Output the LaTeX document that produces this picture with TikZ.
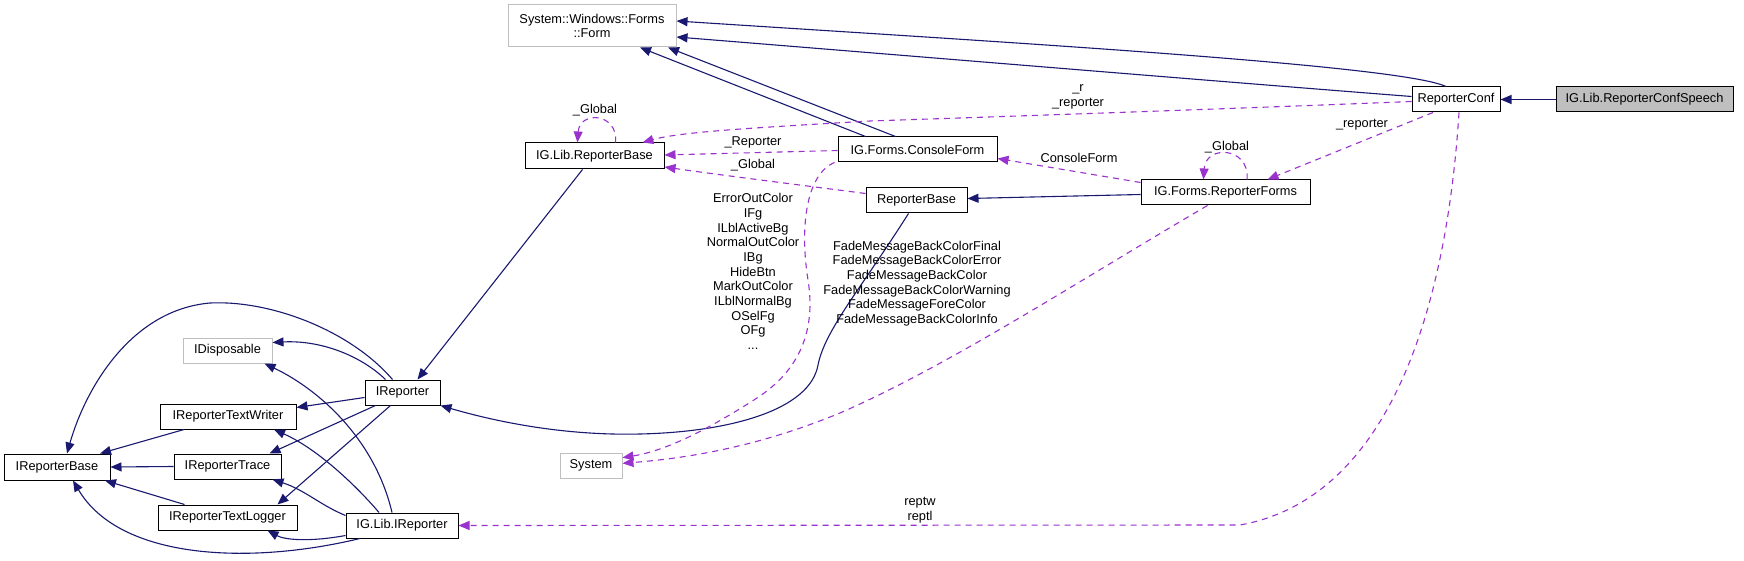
\documentclass[tikz,border=0pt]{standalone}
\usepackage{fontspec}
\setmainfont{Liberation Sans}
\usetikzlibrary{arrows.meta,calc}
\definecolor{navyedge}{HTML}{191970}
\definecolor{purpedge}{HTML}{9A32CD}
\definecolor{extgray}{HTML}{BFBFBF}
\newcommand\dgfont{\fontsize{12.8pt}{14.7pt}\selectfont}
\begin{document}
\begin{tikzpicture}[x=1pt,y=-1pt,
  cls/.style={draw=black, line width=1pt, fill=white, rectangle, inner sep=0pt, font=\dgfont, align=center},
  ext/.style={cls, draw=extgray},
  focal/.style={cls, fill=extgray},
  inh/.style={draw=navyedge, line width=1.1pt, -{Triangle[length=11pt,width=9pt]}},
  use/.style={draw=purpedge, line width=1.1pt, dash pattern=on 6pt off 5pt, -{Triangle[length=11pt,width=9pt]}},
  lab/.style={font=\dgfont, align=center, inner sep=0pt}]
\useasboundingbox[fill=white] (0,0) rectangle (1744,561);

% nodes
\node[ext, minimum width=168pt, minimum height=42pt] (Form) at (592,26) {System::Windows::Forms\\::Form};
\node[cls, minimum width=88pt, minimum height=25pt] (RC) at (1456,99.5) {ReporterConf};
\node[focal, minimum width=177pt, minimum height=25pt] (RCS) at (1644.5,99.5) {IG.Lib.ReporterConfSpeech};
\node[cls, minimum width=139pt, minimum height=26pt] (RB) at (594.5,156) {IG.Lib.ReporterBase};
\node[cls, minimum width=159pt, minimum height=25pt] (CF) at (917.5,149.5) {IG.Forms.ConsoleForm};
\node[cls, minimum width=101pt, minimum height=25pt] (RBase) at (916.5,200.5) {ReporterBase};
\node[cls, minimum width=169pt, minimum height=25pt] (RF) at (1225.5,192.5) {IG.Forms.ReporterForms};
\node[ext, minimum width=89pt, minimum height=25pt] (IDisp) at (227.5,350.5) {IDisposable};
\node[cls, minimum width=75pt, minimum height=25pt] (IRep) at (402.5,392.5) {IReporter};
\node[cls, minimum width=136pt, minimum height=25pt] (ITW) at (228,416.5) {IReporterTextWriter};
\node[cls, minimum width=106pt, minimum height=26pt] (IRB) at (57,467) {IReporterBase};
\node[cls, minimum width=107pt, minimum height=25pt] (ITrace) at (227.5,466.5) {IReporterTrace};
\node[cls, minimum width=139pt, minimum height=25pt] (ITL) at (227.5,517.5) {IReporterTextLogger};
\node[cls, minimum width=112pt, minimum height=25pt] (IGIR) at (402,525.5) {IG.Lib.IReporter};
\node[ext, minimum width=62pt, minimum height=25pt] (Sys) at (591,465.5) {System};

% inheritance edges
\draw[inh] (RCS.west) -- (RC.east);
\draw[inh] ($(RC.north)+(-10,0)$) .. controls (1400,65) and (1000,42) .. ($(Form.east)+(0,-5)$);
\draw[inh] ($(RC.west)+(0,-3)$) .. controls (1200,80) and (900,55) .. ($(Form.east)+(0,11)$);
\draw[inh] ($(CF.north)+(-52,0)$) -- ($(Form.south)+(48,0)$);
\draw[inh] ($(CF.north)+(-22,0)$) -- ($(Form.south)+(76,0)$);
\draw[inh] ($(RF.west)+(0,2)$) -- ($(RBase.east)+(0,-2)$);
\draw[inh] ($(RB.south)+(-12,0)$) -- ($(IRep.north)+(15,0)$);
\draw[inh] ($(RBase.south)+(-8,0)$) .. controls (860,290) and (825,330) .. (818,365)
  .. controls (810,410) and (730,432) .. (640,434)
  .. controls (560,436) and (490,420) .. (IRep.south east);
\draw[inh] ($(IRep.north)+(-17,0)$) .. controls (360,355) and (320,340) .. ($(IDisp.east)+(0,-8)$);
\draw[inh] ($(IRep.north)+(-10,0)$) .. controls (350,330) and (270,300) .. (210,303)
  .. controls (130,310) and (85,390) .. ($(IRB.north)+(10,0)$);
\draw[inh] ($(IRep.west)+(0,5)$) -- ($(ITW.east)+(0,-9)$);
\draw[inh] ($(IRep.south)+(-27,0)$) -- ($(ITrace.north)+(42,0)$);
\draw[inh] ($(IRep.south)+(-12,0)$) -- ($(ITL.north)+(50,0)$);
\draw[inh] ($(ITW.south)+(-44,0)$) -- ($(IRB.north)+(43,0)$);
\draw[inh] (ITrace.west) -- (IRB.east);
\draw[inh] ($(ITL.north)+(-43,0)$) -- ($(IRB.south)+(48,0)$);
\draw[inh] ($(IGIR.north)+(-10,0)$) .. controls (375,440) and (320,390) .. ($(IDisp.south)+(37,0)$);
\draw[inh] ($(IGIR.north)+(-23,0)$) .. controls (360,490) and (320,450) .. ($(ITW.south)+(46,0)$);
\draw[inh] ($(IGIR.west)+(0,-10)$) .. controls (320,505) and (305,490) .. ($(ITrace.south)+(45,0)$);
\draw[inh] ($(IGIR.west)+(0,10)$) .. controls (310,542) and (285,540) .. ($(ITL.south)+(40,0)$);
\draw[inh] ($(IGIR.south)+(-42,0)$) .. controls (250,565) and (120,560) .. ($(IRB.south)+(16,0)$);

% usage edges
\draw[use] ($(RC.west)+(0,2)$) .. controls (1250,108) and (1050,115) .. (870,121)
  .. controls (750,128) and (680,132) .. ($(RB.north)+(48,0)$);
\node[lab] (lrr) at (1078,97) {\_r\\\_reporter};
\draw[use] ($(CF.west)+(0,1)$) -- ($(RB.east)+(0,-1)$);
\node[lab] (lRep) at (753,142) {\_Reporter};
\draw[use] ($(RBase.west)+(0,-7)$) .. controls (800,185) and (720,175) .. ($(RB.east)+(0,11)$);
\node[lab] (lG1) at (753,165) {\_Global};
\draw[use] ($(RB.north)+(21,0)$) .. controls +(3,-30) and +(2,-32) .. ($(RB.north)+(-17,0)$);
\node[lab] (lG2) at (595,110) {\_Global};
\draw[use] ($(RF.west)+(0,-10)$) -- ($(CF.east)+(0,9)$);
\node[lab] (lCF) at (1079,158) {ConsoleForm};
\draw[use] ($(RC.south)+(-23,0)$) -- ($(RF.north)+(42,0)$);
\node[lab] (lrep2) at (1362,125) {\_reporter};
\draw[use] ($(RF.north)+(21.5,0)$) .. controls +(3,-33) and +(2,-35) .. ($(RF.north)+(-22,0)$);
\node[lab] (lG3) at (1227,147) {\_Global};
\draw[use] ($(CF.south west)+(-3,0)$) .. controls (805,175) and (800,230) .. (808,280)
  .. controls (816,330) and (800,370) .. (757,398)
  .. controls (715,425) and (670,450) .. (Sys.14);
\node[lab] (lcol) at (753,271.5) {ErrorOutColor\\IFg\\ILblActiveBg\\NormalOutColor\\IBg\\HideBtn\\MarkOutColor\\ILblNormalBg\\OSelFg\\OFg\\...};
\draw[use] ($(RF.south)+(-18,0)$) .. controls (1080,280) and (950,365) .. (840,413)
  .. controls (760,446) and (690,458) .. (Sys.4);
\node[lab] (lfade) at (917,283.5) {FadeMessageBackColorFinal\\FadeMessageBackColorError\\FadeMessageBackColor\\FadeMessageBackColorWarning\\FadeMessageForeColor\\FadeMessageBackColorInfo};
\draw[use] ($(RC.south)+(3,0)$) .. controls (1445,330) and (1380,500) .. (1240,525) -- (IGIR.east);
\node[lab] (lrept) at (920,510) {reptw\\reptl};
\end{tikzpicture}
\end{document}
